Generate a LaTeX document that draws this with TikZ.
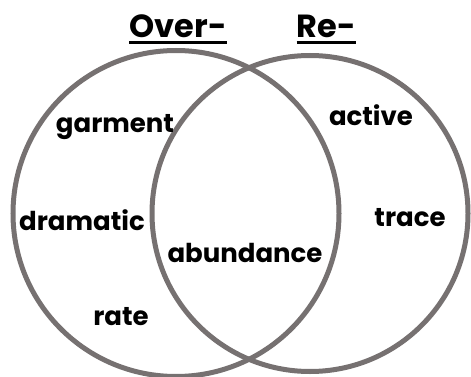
\documentclass[tikz,border=0pt]{standalone}
\usepackage{fontspec}
\setmainfont{Poppins}
\definecolor{ringgray}{RGB}{118,113,113}
\begin{document}
\begin{tikzpicture}[x=1pt,y=-1pt,
  ring/.style={draw=ringgray,line width=5pt},
  word/.style={anchor=base,inner sep=0pt,font=\fontsize{26}{29}\selectfont\bfseries},
  title/.style={anchor=base,inner sep=0pt,font=\fontsize{32}{36}\selectfont\bfseries}]
\useasboundingbox (0,0) rectangle (471,377);
\node[ring,circle,minimum size=326pt,inner sep=0pt] (over) at (176,213.5) {};
\node[ring,circle,minimum size=316pt,inner sep=0pt] (re) at (310,213.5) {};
\node[title] (tover) at (178,38) {Over-};
\node[title] (tre) at (326.5,38) {Re-};
\draw[line width=3pt] (tover.south west |- 0,42.5) -- (tover.south east |- 0,42.5);
\draw[line width=3pt] (tre.south west |- 0,42.5) -- (tre.south east |- 0,42.5);
\node[word] (garment) at (115,132) {garment};
\node[word] (active) at (371,125) {active};
\node[word] (dramatic) at (82,230) {dramatic};
\node[word] (trace) at (410,226) {trace};
\node[word] (abundance) at (245,262) {abundance};
\node[word] (rate) at (121,325) {rate};
\end{tikzpicture}
\end{document}
